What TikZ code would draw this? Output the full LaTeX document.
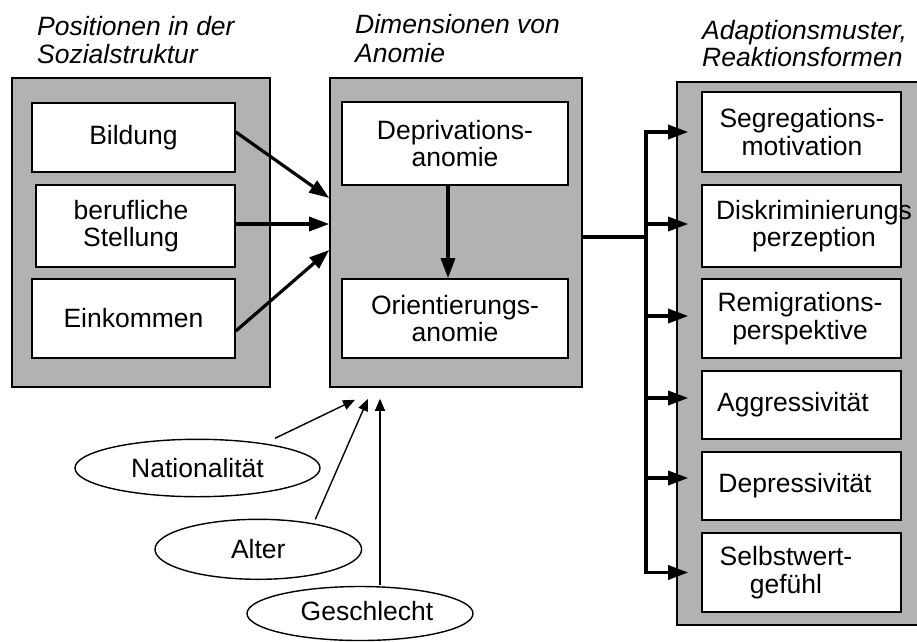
\documentclass[tikz,border=0pt]{standalone}
\usepackage{fontspec}
\setmainfont{Liberation Sans}
\usetikzlibrary{arrows.meta,shapes.geometric}
\newcommand\dgfont{\fontsize{26.5}{27.5}\selectfont}
\begin{document}
\begin{tikzpicture}[x=1pt,y=-1pt,
  panel/.style={rectangle,draw=black,fill=gray!60,line width=1.6pt,inner sep=0pt},
  inbox/.style={rectangle,draw=black,fill=white,line width=1.6pt,inner sep=0pt,align=center,font=\dgfont},
  boxtext/.style={inner sep=0pt,align=center,font=\dgfont},
  title/.style={anchor=base west,inner sep=0pt,font=\dgfont\itshape},
  oval/.style={ellipse,draw=black,line width=1.4pt,inner sep=0pt,font=\dgfont},
  bigarrow/.style={line width=3.2pt,-{Triangle[length=20pt,width=14pt]}},
  busline/.style={line width=3.2pt},
  thinarrow/.style={line width=1.4pt,-{Triangle[length=12pt,width=10pt]}}
]
\useasboundingbox (0,0) rectangle (917,641);

% titles
\node[title] (t1a) at (37,35) {Positionen in der};
\node[title] (t1b) at (37,63) {Sozialstruktur};
\node[title] (t2a) at (355,33) {Dimensionen von};
\node[title] (t2b) at (355,62) {Anomie};
\node[title] (t3a) at (702,39) {Adaptionsmuster,};
\node[title] (t3b) at (702,66) {Reaktionsformen};

% left panel
\node[panel,minimum width=258pt,minimum height=309pt] (lp) at (141,232.5) {};
\node[inbox,minimum width=203pt,minimum height=69pt] (bild) at (133.5,137.5) {Bildung};
\node[inbox,minimum width=199pt,minimum height=82pt] (stel) at (135.5,226) {};
\node[boxtext] (stelT) at (131,226) {berufliche\\Stellung};
\node[inbox,minimum width=203pt,minimum height=79pt] (eink) at (133.5,318.5) {Einkommen};

% centre panel
\node[panel,minimum width=252pt,minimum height=309pt] (ctr) at (456,232.5) {};
\node[inbox,minimum width=226pt,minimum height=83pt] (depr) at (455,143.5) {Deprivations-\\anomie};
\node[inbox,minimum width=226pt,minimum height=79pt] (orie) at (455,318.5) {Orientierungs-\\anomie};

% right panel
\node[panel,minimum width=241pt,minimum height=543pt] (rp) at (797.5,353.5) {};
\node[inbox,minimum width=199pt,minimum height=80pt] (seg) at (801.5,132) {};
\node[boxtext] (segT) at (802,132) {Segregations-\\motivation};
\node[inbox,minimum width=199pt,minimum height=82pt] (dis) at (801.5,226) {};
\node[boxtext] (disT) at (814,226) {Diskriminierungs\\perzeption};
\node[inbox,minimum width=199pt,minimum height=79pt] (rem) at (801.5,318.5) {};
\node[boxtext] (remT) at (800,318.5) {Remigrations-\\perspektive};
\node[inbox,minimum width=199pt,minimum height=68pt] (agg) at (801.5,405) {};
\node[boxtext] (aggT) at (793,405) {Aggressivität};
\node[inbox,minimum width=199pt,minimum height=68pt] (dep) at (801.5,486) {};
\node[boxtext] (depT) at (795,486) {Depressivität};
\node[inbox,minimum width=199pt,minimum height=79pt] (sel) at (801.5,572.5) {};
\node[boxtext] (selT) at (786,572.5) {Selbstwert-\\gefühl};

% ellipses
\node[oval,minimum width=245pt,minimum height=57.4pt] (nat) at (197.5,468) {Nationalität};
\node[oval,minimum width=206.6pt,minimum height=60pt] (alt) at (258.3,549.3) {Alter};
\node[oval,minimum width=226pt,minimum height=54pt] (ges) at (360,613.5) {};
\node[boxtext] (gesT) at (367,611) {Geschlecht};

% arrows into centre panel
\draw[bigarrow] ([yshift=5.5pt]bild.east) -- ([yshift=34.5pt]ctr.west);
\draw[bigarrow] ([yshift=2pt]stel.east) -- ([yshift=8.5pt]ctr.west);
\draw[bigarrow] ([yshift=-12.5pt]eink.east) -- ([yshift=-17.5pt]ctr.west);
\draw[bigarrow] ([xshift=-7pt]depr.south) -- ([xshift=-7pt]orie.north);

% bus to right panel
\coordinate (bus) at (646,237);
\coordinate (bt) at (646,132);
\coordinate (bb) at (646,572);
\draw[busline] ([yshift=-4.5pt]ctr.east) -- (bus);
\draw[busline] ([yshift=1.6pt]bt) -- ([yshift=-1.6pt]bb);
\coordinate (a1) at ([xshift=-13pt]seg.west);
\coordinate (a2) at ([xshift=-13pt,yshift=2pt]dis.west);
\coordinate (a3) at ([xshift=-13pt,yshift=2.5pt]rem.west);
\coordinate (a4) at ([xshift=-13pt,yshift=7pt]agg.west);
\coordinate (a5) at ([xshift=-13pt,yshift=8pt]dep.west);
\coordinate (a6) at ([xshift=-13pt]sel.west);
\foreach \t in {a1,a2,a3,a4,a5,a6}
  \draw[bigarrow] (bt |- \t) -- (\t);

% thin arrows from ellipses
\coordinate (c1) at ([xshift=-101pt,yshift=-12pt]ctr.south);
\coordinate (c2) at ([xshift=-88pt,yshift=-11pt]ctr.south);
\coordinate (c3) at ([xshift=-76pt,yshift=-11pt]ctr.south);
\draw[thinarrow] ([xshift=77.5pt,yshift=29.7pt]nat.center) -- (c1);
\draw[thinarrow] ([xshift=57pt,yshift=30pt]alt.center) -- (c2);
\draw[thinarrow] ([xshift=20pt,yshift=28.5pt]ges.center) -- (c3);
\end{tikzpicture}
\end{document}
